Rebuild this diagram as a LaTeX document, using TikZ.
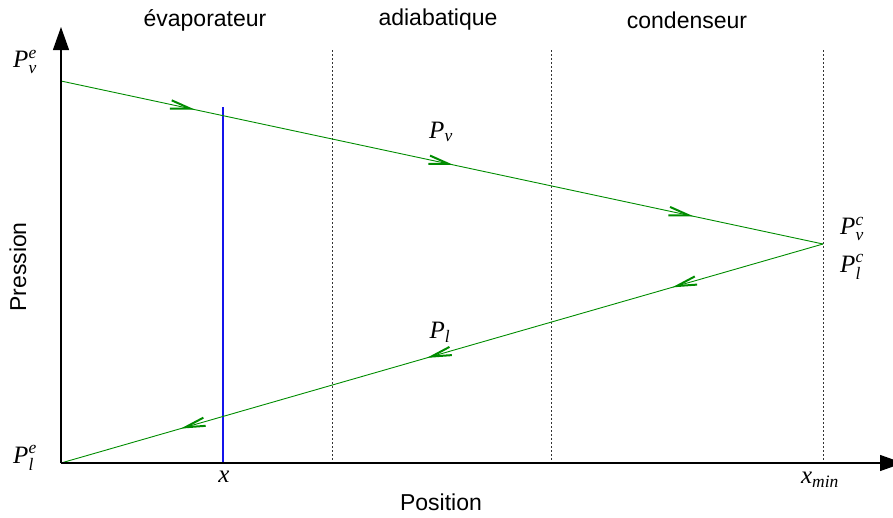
\documentclass[tikz,border=0pt]{standalone}
\usepackage{amsmath}
\usepackage{fontspec}
\setmainfont{Liberation Serif}
\newfontfamily\arialf{Liberation Sans}
\usetikzlibrary{arrows.meta,decorations.markings}
\definecolor{flowgreen}{RGB}{0,140,0}
\definecolor{cutblue}{RGB}{20,20,235}
\begin{document}
\begin{tikzpicture}[x=1pt,y=-1pt,
  axis/.style={line width=1.2pt, -{Triangle[length=23pt,width=16pt]}},
  flow/.style={flowgreen, line width=0.9pt, postaction={decorate}},
  barb/.style={line width=2pt, flowgreen},
  sep/.style={dash pattern=on 2pt off 2pt, line width=0.8pt, black!80},
  cut/.style={cutblue, line width=1.1pt},
  head/.style={font=\arialf\fontsize{23}{26}\selectfont},
  lab/.style={font=\fontsize{25}{28}\selectfont, inner sep=0pt}]
\clip (0,0) rectangle (893,517);
\useasboundingbox (0,0) rectangle (893,517);
% coordinates
\coordinate (O) at (61,463);
\coordinate (Ytop) at (61,27);
\coordinate (Xend) at (903,463);
\coordinate (Pve) at (61,81);
\coordinate (C) at (823,244);
\coordinate (d1t) at (332,50); \coordinate (d1b) at (332,463);
\coordinate (d2t) at (551,50); \coordinate (d2b) at (551,463);
\coordinate (d3t) at (823,50); \coordinate (d3b) at (823,463);
\coordinate (bt) at (223,107); \coordinate (bb) at (223,463);
% separators
\draw[sep] (d1t) -- (d1b);
\draw[sep] (d2t) -- (d2b);
\draw[sep] (d3t) -- (d3b);
% cut line
\draw[cut] (bt) -- (bb);
% flows
\draw[flow, decoration={markings,
   mark=at position 0.176 with {\arrow[barb]{Straight Barb[length=20pt,width=8.5pt]}},
   mark=at position 0.515 with {\arrow[barb]{Straight Barb[length=20pt,width=8.5pt]}},
   mark=at position 0.83 with {\arrow[barb]{Straight Barb[length=20pt,width=8.5pt]}}}]
   (Pve) -- (C);
\draw[flow, decoration={markings,
   mark=at position 0.198 with {\arrow[barb]{Straight Barb[length=20pt,width=8.5pt]}},
   mark=at position 0.52 with {\arrow[barb]{Straight Barb[length=20pt,width=8.5pt]}},
   mark=at position 0.843 with {\arrow[barb]{Straight Barb[length=20pt,width=8.5pt]}}}]
   (C) -- (O);
% axes
\draw[axis] (O) -- (Ytop);
\draw[axis] (O) -- (Xend);
% headings
\node[head] (h1) at (205,20) {évaporateur};
\node[head] (h2) at (438,20) {adiabatique};
\node[head] (h3) at (687,20) {condenseur};
\node[head, rotate=90] (yl) at (18,267) {Pression};
\node[head] (xl) at (441,502) {Position};
% labels
\node[lab] (lpve) at (25,62) {$\textit{P}^{\textit{e}}_{\textit{v}}$};
\node[lab] (lple) at (25,458) {$\textit{P}^{\textit{e}}_{\textit{l}}$};
\node[lab] (lpv) at (441,132) {$\textit{P}_{\textit{v}}$};
\node[lab] (lpl) at (440,332) {$\textit{P}_{\textit{l}}$};
\node[lab] (lpvc) at (852,229) {$\textit{P}^{\textit{c}}_{\textit{v}}$};
\node[lab] (lplc) at (852,267) {$\textit{P}^{\textit{c}}_{\textit{l}}$};
\node[lab] (lx) at (224,477) {$\textit{x}$};
\node[lab] (lxmin) at (820,480) {$\textit{x}_{\textit{min}}$};
\end{tikzpicture}
\end{document}
